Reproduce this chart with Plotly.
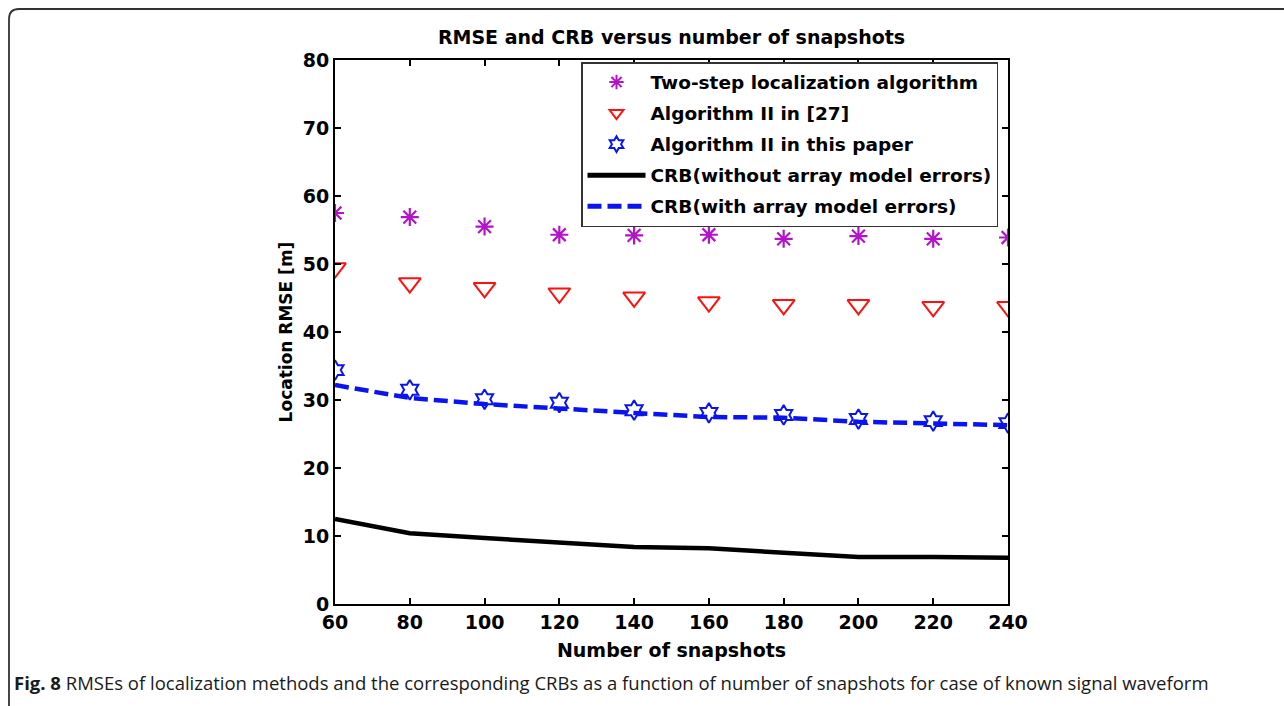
import plotly.graph_objects as go

# Number of snapshots
snapshots = [60, 80, 100, 120, 140, 160, 180, 200, 220, 240]

# Location RMSE [m] for each method
rmse_two_step = [57.5, 56.9, 55.5, 54.3, 54.2, 54.3, 53.7, 54.1, 53.7, 53.9]
rmse_alg2_ref27 = [49.4, 47.2, 46.5, 45.7, 45.1, 44.4, 44.0, 44.0, 43.7, 43.7]
rmse_alg2_paper = [34.4, 31.5, 30.1, 29.6, 28.5, 28.1, 27.8, 27.2, 26.9, 26.6]

# Cramer-Rao bounds
crb_without_errors = [12.5, 10.4, 9.7, 9.1, 8.4, 8.2, 7.6, 6.9, 6.9, 6.8]
crb_with_errors = [32.2, 30.3, 29.4, 28.7, 28.1, 27.5, 27.4, 26.8, 26.6, 26.3]

x_ticks = [60, 80, 100, 120, 140, 160, 180, 200, 220, 240]
y_ticks = [0, 10, 20, 30, 40, 50, 60, 70, 80]

FONT = "DejaVu Sans"
W, H = 1284, 706
L, R, T, B = 335, 276, 60, 102
PW, PH = W - L - R, H - T - B


def px(x):
    return (x - L) / PW


def py(y):
    return (H - B - y) / PH


fig = go.Figure()

fig.add_trace(go.Scatter(
    x=snapshots, y=rmse_two_step, mode="markers",
    name="Two-step localization algorithm", legendrank=1, legendgroup="g1",
    marker=dict(symbol="asterisk-open", size=15, color="#B414C8",
                line=dict(color="#B414C8", width=2.2)),
))
fig.add_trace(go.Scatter(
    x=snapshots, y=rmse_alg2_ref27, mode="markers",
    name="Algorithm II in [27]", legendrank=2, legendgroup="g2",
    marker=dict(symbol="triangle-down-open", size=19, color="#FF1010",
                line=dict(color="#FF1010", width=2)),
))
fig.add_trace(go.Scatter(
    x=snapshots, y=crb_without_errors, mode="lines",
    name="CRB(without array model errors)", legendrank=4, legendgroup="g4",
    line=dict(color="black", width=4.5),
))
fig.add_trace(go.Scatter(
    x=snapshots, y=crb_with_errors, mode="lines",
    name="CRB(with array model errors)", legendrank=5, legendgroup="g5",
    line=dict(color="#0A14F0", width=4.5, dash="14px,6px"),
))
fig.add_trace(go.Scatter(
    x=snapshots, y=rmse_alg2_paper, mode="markers",
    name="Algorithm II in this paper", legendrank=3, legendgroup="g3",
    marker=dict(symbol="hexagram-open", size=15, color="#0A14F0",
                line=dict(color="#0A14F0", width=2)),
))

axis_common = dict(
    showgrid=False, zeroline=False, showline=True, linecolor="black",
    linewidth=2, mirror="ticks", ticks="inside", ticklen=6, tickwidth=1.5,
    tickcolor="black",
    tickfont=dict(family=FONT, size=19, color="black", weight="bold"),
)

fig.update_layout(
    width=W, height=H,
    margin=dict(l=L, r=R, t=T, b=B),
    paper_bgcolor="white", plot_bgcolor="white",
    title=dict(text="<b>RMSE and CRB versus number of snapshots</b>",
               x=px(671.5), xref="paper", xanchor="center",
               y=1 - 37 / H, yanchor="middle",
               font=dict(family=FONT, size=19, color="black")),
    xaxis=dict(range=[60, 240], tickvals=x_ticks,
               title=dict(text="<b>Number of snapshots</b>", standoff=12,
                          font=dict(family=FONT, size=19, color="black")),
               **axis_common),
    yaxis=dict(range=[0, 80], tickvals=y_ticks,
               title=dict(text="<b>Location RMSE [m]</b>", standoff=6,
                          font=dict(family=FONT, size=17, color="black")),
               **axis_common),
    legend=dict(
        x=px(581), y=py(62), xanchor="left", yanchor="top",
        bgcolor="white", bordercolor="#333333", borderwidth=1.5,
        font=dict(family=FONT, size=18.5, color="black", weight="bold"),
        traceorder="grouped", itemwidth=58, itemsizing="constant",
        tracegroupgap=4,
    ),
    showlegend=True,
)

# Caption under the figure
fig.add_annotation(
    xref="paper", yref="paper", x=px(12), y=py(682),
    xanchor="left", yanchor="middle", showarrow=False,
    text="<b>Fig. 8</b> RMSEs of localization methods and the corresponding CRBs "
         "as a function of number of snapshots for case of known signal waveform",
    font=dict(family="Open Sans", size=18.5, color="#1a1a1a"),
)

# Rounded frame around the figure panel
frame = (f"M {px(9)},{py(706)} L {px(9)},{py(19)} "
         f"Q {px(9)},{py(9)} {px(19)},{py(9)} L {px(1290)},{py(9)}")
fig.add_shape(type="path", xref="paper", yref="paper", path=frame,
              line=dict(color="#333333", width=1.8), layer="above")

fig.write_html("out.html")
